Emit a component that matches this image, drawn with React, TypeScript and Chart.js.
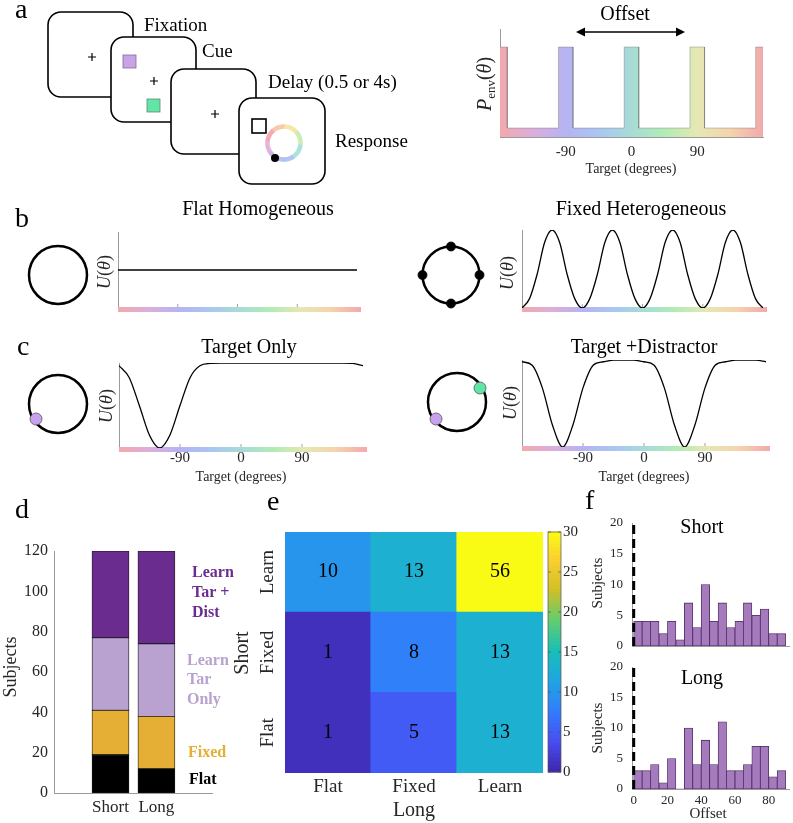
import React, { useEffect, useRef } from 'react';
import { Chart, registerables } from 'chart.js';

Chart.register(...registerables);

const PAGE_W = 793;
const PAGE_H = 823;
const SERIF = '"Liberation Serif", "DejaVu Serif", serif';
const INK = '#262626';
const AXIS = '#9a9a9a';
Chart.defaults.font.family = SERIF;
Chart.defaults.color = INK;

// ---------------- data ----------------
const targetTicks = [-90, 0, 90];

// panel a: environment prior (step function)
const envEdges = [-180, -170, -100, -80, -10, 10, 80, 100, 170, 180];
const envLevels = [1, 0.1, 1, 0.1, 1, 0.1, 1, 0.1, 1];

// panel b
const flatTheta = [-180, 180];
const flatU = [0.5, 0.5];
const heteroTheta = [-180, -168.75, -157.5, -146.25, -135, -123.75, -112.5, -101.25, -90, -78.75, -67.5, -56.25, -45, -33.75, -22.5, -11.25, 0, 11.25, 22.5, 33.75, 45, 56.25, 67.5, 78.75, 90, 101.25, 112.5, 123.75, 135, 146.25, 157.5, 168.75, 180];
const heteroU = [0, 0.12, 0.43, 0.84, 1, 0.84, 0.43, 0.12, 0, 0.12, 0.43, 0.84, 1, 0.84, 0.43, 0.12, 0, 0.12, 0.43, 0.84, 1, 0.84, 0.43, 0.12, 0, 0.12, 0.43, 0.84, 1, 0.84, 0.43, 0.12, 0];

// panel c
const cTheta = [-180, -165, -150, -135, -120, -105, -90, -75, -60, -45, -30, -15, 0, 15, 30, 45, 60, 75, 90, 105, 120, 135, 150, 165, 180];
const targetOnlyU = [0.97, 0.83, 0.5, 0.15, 0, 0.15, 0.5, 0.83, 0.97, 0.995, 1, 1, 1, 1, 1, 1, 1, 1, 1, 1, 1, 1, 1, 0.995, 0.97];
const targetDistU = [0.98, 0.94, 0.68, 0.25, 0, 0.25, 0.68, 0.94, 0.98, 0.998, 1, 0.998, 0.98, 0.94, 0.68, 0.25, 0, 0.25, 0.68, 0.94, 0.98, 0.998, 1, 0.998, 0.98];

// panel d
const stackCats = ['Short', 'Long'];
const flatCounts = [19, 12];
const fixedCounts = [22, 26];
const tarOnlyCounts = [36, 36];
const tarDistCounts = [43, 46];
const subjectTicks = [0, 20, 40, 60, 80, 100, 120];

// panel e
const longCats = ['Flat', 'Fixed', 'Learn'];
const shortCats = ['Flat', 'Fixed', 'Learn'];
const heatShortFlat = [1, 5, 13];
const heatShortFixed = [1, 8, 13];
const heatShortLearn = [10, 13, 56];
const colorbarTicks = [0, 5, 10, 15, 20, 25, 30];
const colorMax = 30;

// panel f
const binEdges = [0, 5, 10, 15, 20, 25, 30, 35, 40, 45, 50, 55, 60, 65, 70, 75, 80, 85, 90];
const shortOffsetCounts = [4, 4, 4, 2, 4, 1, 7, 3, 10, 4, 7, 3, 4, 7, 5, 6, 2, 2];
const longOffsetCounts = [3, 3, 4, 1, 5, 0, 10, 4, 8, 4, 11, 3, 3, 4, 7, 7, 2, 3];
const offsetTicks = [0, 20, 40, 60, 80];
const histYTicks = [0, 5, 10, 15, 20];
const dashX = [0, 0];
const dashY = [0, 20];

// ---------------- styles ----------------
const rainbowStops: [number, string][] = [
  [0, '#f2a9ad'], [0.125, '#dcaedb'], [0.25, '#b6b3f3'], [0.375, '#aac6f1'], [0.5, '#a7dcd6'],
  [0.625, '#b2ebb6'], [0.75, '#e5e8b2'], [0.875, '#f5d3ad'], [1, '#f2a9ad'],
];
const parulaAnchors: [number, number[]][] = [
  [0 / 63, [0.2422, 0.1504, 0.6603]],
  [8 / 63, [0.2813, 0.3006, 0.9414]],
  [16 / 63, [0.1963, 0.4847, 0.9892]],
  [24 / 63, [0.1248, 0.6459, 0.8883]],
  [32 / 63, [0.0964, 0.75, 0.712]],
  [40 / 63, [0.3909, 0.8029, 0.4354]],
  [48 / 63, [0.8203, 0.7498, 0.1535]],
  [56 / 63, [0.9892, 0.8136, 0.1885]],
  [63 / 63, [0.9769, 0.9839, 0.0805]],
];
const D_DARK = '#6a2d8f';
const D_LIGHT = '#b9a2cf';
const D_GOLD = '#e5af35';
const HIST_FILL = '#a57bbd';
const HIST_EDGE = '#4a2a5e';

function parula(t: number): string {
  const tt = Math.max(0, Math.min(1, t));
  for (let i = 0; i < parulaAnchors.length - 1; i++) {
    const [p0, c0] = parulaAnchors[i];
    const [p1, c1] = parulaAnchors[i + 1];
    if (tt <= p1) {
      const f = (tt - p0) / (p1 - p0);
      const c = c0.map((v, k) => Math.round((v + (c1[k] - v) * f) * 255));
      return `rgb(${c[0]},${c[1]},${c[2]})`;
    }
  }
  const c = parulaAnchors[parulaAnchors.length - 1][1].map((v) => Math.round(v * 255));
  return `rgb(${c[0]},${c[1]},${c[2]})`;
}

function rainbow(ctx: CanvasRenderingContext2D, x0: number, x1: number) {
  const g = ctx.createLinearGradient(x0, 0, x1, 0);
  rainbowStops.forEach(([p, c]) => g.addColorStop(p, c));
  return g;
}

// ---------------- helpers ----------------
type Box = { L: number; T: number; R: number; B: number };
const pad = (b: Box, left = 0, bottom = 0, right = 0) => ({
  left: b.L - left, top: b.T, right: PAGE_W - b.R - right, bottom: PAGE_H - b.B - bottom,
});
const fix = (size: number) => (scale: any) => {
  if (scale.isHorizontal()) scale.height = size; else scale.width = size;
};
const setTicks = (vals: number[]) => (s: any) => { s.ticks = vals.map((v) => ({ value: v })); };
const noGrid = { display: false, drawTicks: false };
const baseOpts = {
  animation: false as const,
  responsive: false,
  events: [] as any[],
  plugins: { legend: { display: false }, tooltip: { enabled: false } },
};

type Txt = { t: string; x: number; y: number; size: number; color?: string; weight?: string; style?: string; rot?: number; align?: CanvasTextAlign; base?: CanvasTextBaseline };
function drawTexts(ctx: CanvasRenderingContext2D, items: Txt[]) {
  items.forEach((it) => {
    ctx.save();
    ctx.translate(it.x, it.y);
    if (it.rot) ctx.rotate((it.rot * Math.PI) / 180);
    ctx.font = `${it.style ?? 'normal'} ${it.weight ?? 'normal'} ${it.size}px ${SERIF}`;
    ctx.fillStyle = it.color ?? INK;
    ctx.textAlign = it.align ?? 'center';
    ctx.textBaseline = it.base ?? 'middle';
    ctx.fillText(it.t, 0, 0);
    ctx.restore();
  });
}
type Seg = { t: string; italic?: boolean; size: number; dy?: number };
function drawMath(ctx: CanvasRenderingContext2D, segs: Seg[], x: number, y: number, rot: number) {
  ctx.save();
  ctx.translate(x, y);
  ctx.rotate((rot * Math.PI) / 180);
  const fontOf = (s: Seg) => `${s.italic ? 'italic ' : ''}${s.size}px ${SERIF}`;
  let total = 0;
  const widths = segs.map((s) => { ctx.font = fontOf(s); const w = ctx.measureText(s.t).width; total += w; return w; });
  let cx = -total / 2;
  const base = segs[0].size * 0.33;
  ctx.textAlign = 'left';
  ctx.textBaseline = 'alphabetic';
  ctx.fillStyle = INK;
  segs.forEach((s, i) => { ctx.font = fontOf(s); ctx.fillText(s.t, cx, base + (s.dy ?? 0)); cx += widths[i]; });
  ctx.restore();
}
const uLabel = (): Seg[] => [
  { t: 'U', italic: true, size: 18 }, { t: '(', size: 18 }, { t: 'θ', italic: true, size: 18 }, { t: ')', size: 18 },
];

function textPlugin(items: Txt[], extra?: (ctx: CanvasRenderingContext2D, chart: any) => void) {
  return {
    id: 'pageText',
    afterDraw(chart: any) {
      const ctx = chart.ctx as CanvasRenderingContext2D;
      ctx.save();
      drawTexts(ctx, items);
      if (extra) extra(ctx, chart);
      ctx.restore();
    },
  };
}

const stripPlugin = {
  id: 'strip',
  beforeDatasetsDraw(chart: any) {
    const { ctx, chartArea: a, scales } = chart;
    ctx.save();
    ctx.fillStyle = rainbow(ctx, a.left, a.right + 4);
    ctx.fillRect(a.left, a.bottom - 1, a.right - a.left + 4, 5);
    ctx.strokeStyle = '#8a8a8a';
    ctx.lineWidth = 0.8;
    targetTicks.forEach((v) => {
      const x = scales.x.getPixelForValue(v);
      ctx.beginPath(); ctx.moveTo(x, a.bottom - 1); ctx.lineTo(x, a.bottom - 4); ctx.stroke();
    });
    ctx.restore();
  },
};

// ---------------- decoration (task diagram, letters, icons) ----------------
function drawDecor(ctx: CanvasRenderingContext2D) {
  ctx.save();
  ctx.fillStyle = '#000';
  ctx.font = `28px ${SERIF}`;
  ctx.textAlign = 'left';
  ctx.textBaseline = 'alphabetic';
  const letters: [string, number, number][] = [['a', 15, 18], ['b', 15, 227], ['c', 17, 355], ['d', 15, 518], ['e', 267, 510], ['f', 585, 509]];
  letters.forEach(([t, x, y]) => ctx.fillText(t, x, y));

  const box = (x: number, y: number, w: number, h: number) => {
    ctx.beginPath();
    if ((ctx as any).roundRect) (ctx as any).roundRect(x, y, w, h, 13); else ctx.rect(x, y, w, h);
    ctx.fillStyle = '#fff'; ctx.fill();
    ctx.lineWidth = 1.6; ctx.strokeStyle = '#000'; ctx.stroke();
  };
  const plus = (x: number, y: number) => {
    ctx.beginPath(); ctx.lineWidth = 1.2; ctx.strokeStyle = '#000';
    ctx.moveTo(x - 4, y); ctx.lineTo(x + 4, y); ctx.moveTo(x, y - 4); ctx.lineTo(x, y + 4); ctx.stroke();
  };
  const square = (x: number, y: number, s: number, fill: string | null, stroke: string, lw: number) => {
    if (fill) { ctx.fillStyle = fill; ctx.fillRect(x, y, s, s); }
    ctx.lineWidth = lw; ctx.strokeStyle = stroke; ctx.strokeRect(x, y, s, s);
  };
  box(48, 12, 85, 85); plus(92, 57);
  box(111, 37, 85, 85); square(123, 55, 13, '#c9a3e6', '#7d6d8c', 0.8); square(147, 99, 13, '#63e5a5', '#5d8a74', 0.8); plus(154, 81);
  box(171, 69, 85, 85); plus(215, 114);
  box(239, 98, 86, 86); square(252, 119, 14, null, '#000', 1.6);
  // colour ring
  const cx = 284, cy = 143, r = 16.5;
  const ringStops: [number, string][] = [[0, '#f1e7a3'], [0.13, '#c6ecb2'], [0.26, '#a8e2da'], [0.4, '#adc4f1'], [0.52, '#c1b5f1'], [0.65, '#e3b0d9'], [0.76, '#f3a9b1'], [0.88, '#f7c9a9'], [1, '#f1e7a3']];
  const N = 90;
  for (let k = 0; k < N; k++) {
    const f = k / N;
    let col = ringStops[0][1];
    for (let j = 0; j < ringStops.length - 1; j++) if (f >= ringStops[j][0] && f < ringStops[j + 1][0]) col = ringStops[j][1];
    const a0 = -Math.PI / 2 + f * 2 * Math.PI;
    const a1 = a0 + (2 * Math.PI) / N + 0.02;
    ctx.beginPath(); ctx.strokeStyle = col; ctx.lineWidth = 4.5; ctx.arc(cx, cy, r, a0, a1); ctx.stroke();
  }
  ctx.beginPath(); ctx.fillStyle = '#000'; ctx.arc(275, 158, 4, 0, Math.PI * 2); ctx.fill();

  drawTexts(ctx, [
    { t: 'Fixation', x: 144, y: 31, size: 19, align: 'left', base: 'alphabetic', color: '#000' },
    { t: 'Cue', x: 202, y: 57, size: 19, align: 'left', base: 'alphabetic', color: '#000' },
    { t: 'Delay (0.5 or 4s)', x: 268, y: 88, size: 19, align: 'left', base: 'alphabetic', color: '#000' },
    { t: 'Response', x: 335, y: 147, size: 19, align: 'left', base: 'alphabetic', color: '#000' },
  ]);

  // circle icons
  const circle = (x: number, y: number, rr: number) => {
    ctx.beginPath(); ctx.lineWidth = 2.5; ctx.strokeStyle = '#000'; ctx.arc(x, y, rr, 0, Math.PI * 2); ctx.stroke();
  };
  const dot = (x: number, y: number, rr: number, fill: string, stroke: string) => {
    ctx.beginPath(); ctx.fillStyle = fill; ctx.arc(x, y, rr, 0, Math.PI * 2); ctx.fill();
    ctx.lineWidth = 0.8; ctx.strokeStyle = stroke; ctx.stroke();
  };
  circle(58, 275, 29);
  circle(451, 275, 28.5);
  dot(451, 246.5, 4.5, '#000', '#000'); dot(451, 303.5, 4.5, '#000', '#000');
  dot(422.5, 275, 4.5, '#000', '#000'); dot(479.5, 275, 4.5, '#000', '#000');
  circle(58, 404, 29);
  dot(36, 419, 6, '#c8a2ee', '#555');
  circle(457, 402, 29);
  dot(436, 419, 6, '#c8a2ee', '#555');
  dot(480, 388, 6, '#5fe6a6', '#555');
  ctx.restore();
}

// ---------------- chart configs ----------------
function buildConfigs(): any[] {
  const cfgs: any[] = [];

  // decoration
  cfgs.push({
    type: 'scatter',
    data: { datasets: [] },
    options: { ...baseOpts, scales: { x: { display: false }, y: { display: false } } },
    plugins: [{ id: 'decor', afterDraw(chart: any) { drawDecor(chart.ctx); } }],
  });

  // panel a right: P_env
  const envBox: Box = { L: 500, T: 29, R: 763, B: 137 };
  const envPts: { x: number; y: number }[] = [];
  envLevels.forEach((lv, i) => { envPts.push({ x: envEdges[i], y: lv }); envPts.push({ x: envEdges[i + 1], y: lv }); });
  cfgs.push({
    type: 'line',
    data: {
      datasets: [{
        data: envPts, fill: 'origin', borderColor: 'rgba(80,80,80,0.3)', borderWidth: 1, pointRadius: 0, tension: 0,
        backgroundColor: (c: any) => {
          const { chart } = c;
          if (!chart.chartArea) return 'rgba(0,0,0,0)';
          return rainbow(chart.ctx, chart.chartArea.left, chart.chartArea.right);
        },
      }],
    },
    options: {
      ...baseOpts,
      layout: { padding: pad(envBox, 0, 40) },
      scales: {
        x: { type: 'linear', min: -180, max: 180, afterBuildTicks: setTicks(targetTicks), ticks: { font: { size: 15 }, padding: 6, color: INK, maxRotation: 0 }, grid: noGrid, border: { display: true, color: AXIS }, afterFit: fix(40) },
        y: { type: 'linear', min: 0, max: 1.2, ticks: { display: false }, grid: noGrid, border: { display: true, color: AXIS }, afterFit: fix(0) },
      },
    },
    plugins: [textPlugin(
      [{ t: 'Offset', x: 625, y: 15, size: 20, color: '#000' }, { t: 'Target (degrees)', x: 631, y: 169, size: 14 }],
      (ctx) => {
        // double arrow
        const y = 32, x0 = 576, x1 = 685;
        ctx.strokeStyle = '#000'; ctx.fillStyle = '#000'; ctx.lineWidth = 1.4;
        ctx.beginPath(); ctx.moveTo(x0 + 6, y); ctx.lineTo(x1 - 6, y); ctx.stroke();
        ctx.beginPath(); ctx.moveTo(x0, y); ctx.lineTo(x0 + 9, y - 4.5); ctx.lineTo(x0 + 9, y + 4.5); ctx.closePath(); ctx.fill();
        ctx.beginPath(); ctx.moveTo(x1, y); ctx.lineTo(x1 - 9, y - 4.5); ctx.lineTo(x1 - 9, y + 4.5); ctx.closePath(); ctx.fill();
        drawMath(ctx, [
          { t: 'P', italic: true, size: 20 }, { t: 'env', size: 13, dy: 4 }, { t: '(', size: 20 }, { t: 'θ', italic: true, size: 20 }, { t: ')', size: 20 },
        ], 484, 84, -90);
      },
    )],
  });

  // panels b / c
  const uChart = (box: Box, theta: number[], u: number[], labels: boolean, lw: number, texts: Txt[], ul: [number, number], tickPad = 1) => ({
    type: 'line',
    data: { datasets: [{ data: theta.map((x, i) => ({ x, y: u[i] })), borderColor: '#000', borderWidth: lw, pointRadius: 0, cubicInterpolationMode: 'monotone', fill: false }] },
    options: {
      ...baseOpts,
      layout: { padding: pad(box, 0, labels ? 30 : 0) },
      scales: {
        x: { type: 'linear', min: -180, max: 180, afterBuildTicks: setTicks(targetTicks), ticks: { display: labels, font: { size: 15 }, padding: tickPad, color: INK, maxRotation: 0 }, grid: noGrid, border: { display: false }, afterFit: fix(labels ? 30 : 0) },
        y: { type: 'linear', min: 0, max: 1, ticks: { display: false }, grid: noGrid, border: { display: true, color: AXIS }, afterFit: fix(0) },
      },
    },
    plugins: [stripPlugin, textPlugin(texts, (ctx) => drawMath(ctx, uLabel(), ul[0], ul[1], -90))],
  });
  cfgs.push(uChart({ L: 118, T: 232, R: 357, B: 308 }, flatTheta, flatU, false, 1.6,
    [{ t: 'Flat Homogeneous', x: 258, y: 210, size: 20, color: '#000' }], [104, 272]));
  cfgs.push(uChart({ L: 522, T: 230, R: 763, B: 308 }, heteroTheta, heteroU, false, 1.3,
    [{ t: 'Fixed Heterogeneous', x: 641, y: 210, size: 20, color: '#000' }], [507, 273]));
  cfgs.push(uChart({ L: 119, T: 363, R: 363, B: 448 }, cTheta, targetOnlyU, true, 1.3,
    [{ t: 'Target Only', x: 249, y: 348, size: 20, color: '#000' }, { t: 'Target (degrees)', x: 241, y: 477, size: 14 }], [106, 406], 1));
  cfgs.push(uChart({ L: 522, T: 360, R: 766, B: 447 }, cTheta, targetDistU, true, 1.3,
    [{ t: 'Target +Distractor', x: 644, y: 348, size: 20, color: '#000' }, { t: 'Target (degrees)', x: 644, y: 477, size: 14 }], [510, 403], 2));

  // panel d: stacked bars
  const dBox: Box = { L: 54, T: 551, R: 212, B: 793 };
  const stackSeries: [number[], string][] = [[flatCounts, '#000000'], [fixedCounts, D_GOLD], [tarOnlyCounts, D_LIGHT], [tarDistCounts, D_DARK]];
  cfgs.push({
    type: 'bar',
    data: {
      datasets: stackSeries.map(([counts, color]) => ({
        data: stackCats.map((_, i) => ({ x: i + 1, y: counts[i] })),
        backgroundColor: color, borderColor: '#1a1a1a', borderWidth: 0.8, borderSkipped: false, barThickness: 37,
      })),
    },
    options: {
      ...baseOpts,
      layout: { padding: pad(dBox, 40, 30) },
      scales: {
        x: { type: 'linear', min: -0.23, max: 3.21, offset: false, stacked: true, afterBuildTicks: setTicks(stackCats.map((_, i) => i + 1)), ticks: { callback: (_v: any, i: number) => stackCats[i], font: { size: 17 }, padding: 4, color: INK, maxRotation: 0 }, grid: noGrid, border: { display: true, color: AXIS }, afterFit: fix(30) },
        y: { type: 'linear', min: 0, max: 120, stacked: true, afterBuildTicks: setTicks(subjectTicks), ticks: { font: { size: 16 }, padding: 6, color: INK }, grid: noGrid, border: { display: true, color: AXIS }, afterFit: fix(40) },
      },
    },
    plugins: [textPlugin([
      { t: 'Subjects', x: 11, y: 667, size: 18, rot: -90 },
      { t: 'Learn', x: 192, y: 573, size: 16, weight: 'bold', color: D_DARK, align: 'left' },
      { t: 'Tar +', x: 192, y: 593, size: 16, weight: 'bold', color: D_DARK, align: 'left' },
      { t: 'Dist', x: 192, y: 613, size: 16, weight: 'bold', color: D_DARK, align: 'left' },
      { t: 'Learn', x: 187, y: 661, size: 16, weight: 'bold', color: D_LIGHT, align: 'left' },
      { t: 'Tar', x: 187, y: 680, size: 16, weight: 'bold', color: D_LIGHT, align: 'left' },
      { t: 'Only', x: 187, y: 700, size: 16, weight: 'bold', color: D_LIGHT, align: 'left' },
      { t: 'Fixed', x: 188, y: 753, size: 16, weight: 'bold', color: D_GOLD, align: 'left' },
      { t: 'Flat', x: 189, y: 780, size: 16, weight: 'bold', color: '#000', align: 'left' },
    ])],
  });

  // panel e: heatmap
  const eBox: Box = { L: 285, T: 532, R: 543, B: 773 };
  const heatRows = [heatShortFlat, heatShortFixed, heatShortLearn];
  cfgs.push({
    type: 'bar',
    data: {
      labels: longCats,
      datasets: heatRows.map((row, r) => ({
        data: row.map(() => [r, r + 1]),
        backgroundColor: row.map((v) => parula(v / colorMax)),
        borderWidth: 0, grouped: false, barPercentage: 1, categoryPercentage: 1, inflateAmount: 0.6,
      })),
    },
    options: {
      ...baseOpts,
      layout: { padding: pad(eBox, 0, 30) },
      scales: {
        x: { type: 'category', offset: true, ticks: { font: { size: 19 }, padding: 3, color: INK, maxRotation: 0 }, grid: { display: false, drawTicks: false, offset: true }, border: { display: false }, afterFit: fix(30) },
        y: { type: 'linear', min: 0, max: 3, display: false },
      },
    },
    plugins: [textPlugin(
      [{ t: 'Long', x: 414, y: 811, size: 20 }, { t: 'Short', x: 243, y: 653, size: 20, rot: -90 }],
      (ctx, chart) => {
        heatRows.forEach((row, r) => {
          chart.getDatasetMeta(r).data.forEach((el: any, c: number) => {
            const p = el.getCenterPoint();
            drawTexts(ctx, [{ t: String(row[c]), x: p.x, y: p.y, size: 20, color: '#000' }]);
          });
          const y = chart.scales.y.getPixelForValue(r + 0.5);
          drawTexts(ctx, [{ t: shortCats[r], x: 268, y, size: 19, rot: -90 }]);
        });
      },
    )],
  });

  // colorbar
  const cbBox: Box = { L: 548, T: 532, R: 561, B: 772 };
  cfgs.push({
    type: 'bar',
    data: { datasets: [] },
    options: {
      ...baseOpts,
      layout: { padding: pad(cbBox, 0, 0, 30) },
      scales: {
        x: { type: 'linear', display: false },
        y: { type: 'linear', position: 'right', min: 0, max: colorMax, afterBuildTicks: setTicks(colorbarTicks), ticks: { font: { size: 15 }, padding: 2, color: INK }, grid: noGrid, border: { display: false }, afterFit: fix(30) },
      },
    },
    plugins: [{
      id: 'cbar',
      afterDraw(chart: any) {
        const { ctx, chartArea: a, scales } = chart;
        ctx.save();
        const n = 64;
        for (let i = 0; i < n; i++) {
          const y0 = scales.y.getPixelForValue((i / n) * colorMax);
          const y1 = scales.y.getPixelForValue(((i + 1) / n) * colorMax);
          ctx.fillStyle = parula((i + 0.5) / n);
          ctx.fillRect(a.left, y1 - 0.5, a.right - a.left, y0 - y1 + 1);
        }
        ctx.strokeStyle = '#555'; ctx.lineWidth = 0.7;
        ctx.strokeRect(a.left, a.top, a.right - a.left, a.bottom - a.top);
        colorbarTicks.forEach((v) => {
          const y = scales.y.getPixelForValue(v);
          ctx.beginPath(); ctx.moveTo(a.right, y); ctx.lineTo(a.right - 3, y); ctx.moveTo(a.left, y); ctx.lineTo(a.left + 3, y); ctx.stroke();
        });
        ctx.restore();
      },
    }],
  });

  // panel f: histograms
  const histChart = (box: Box, counts: number[], showX: boolean, texts: Txt[]) => ({
    type: 'bar',
    data: {
      datasets: [
        {
          type: 'line', data: dashX.map((x, i) => ({ x, y: dashY[i] })), borderColor: '#000', borderWidth: 3, borderDash: [9, 5], pointRadius: 0, order: 0,
        },
        {
          type: 'bar',
          data: counts.map((c, i) => ({ x: (binEdges[i] + binEdges[i + 1]) / 2, y: c })),
          backgroundColor: HIST_FILL, borderColor: HIST_EDGE,
          borderWidth: (c: any) => (c.raw && c.raw.y === 0 ? 0 : 0.8),
          borderSkipped: false, barPercentage: 1, categoryPercentage: 1, order: 1,
        },
      ],
    },
    options: {
      ...baseOpts,
      layout: { padding: pad(box, 30, showX ? 20 : 0) },
      scales: {
        x: { type: 'linear', min: -1, max: 92, offset: false, afterBuildTicks: setTicks(offsetTicks), ticks: { display: showX, font: { size: 13 }, padding: 4, color: INK, maxRotation: 0 }, grid: noGrid, border: { display: true, color: AXIS }, afterFit: fix(showX ? 20 : 0) },
        y: { type: 'linear', min: 0, max: 20, afterBuildTicks: setTicks(histYTicks), ticks: { font: { size: 13 }, padding: 9, color: INK }, grid: noGrid, border: { display: true, color: AXIS }, afterFit: fix(30) },
      },
    },
    plugins: [textPlugin(texts)],
  });
  cfgs.push(histChart({ L: 632, T: 523, R: 789, B: 646 }, shortOffsetCounts, false, [
    { t: 'Short', x: 702, y: 528, size: 20, color: '#000' },
    { t: 'Subjects', x: 598, y: 583, size: 15, rot: -90 },
  ]));
  cfgs.push(histChart({ L: 632, T: 667, R: 789, B: 789 }, longOffsetCounts, true, [
    { t: 'Long', x: 702, y: 679, size: 20, color: '#000' },
    { t: 'Subjects', x: 598, y: 728, size: 15, rot: -90 },
    { t: 'Offset', x: 708, y: 814, size: 15 },
  ]));

  return cfgs;
}

const N_CHARTS = 11;

export default function App() {
  const refs = useRef<(HTMLCanvasElement | null)[]>([]);
  useEffect(() => {
    const configs = buildConfigs();
    const charts = configs.map((cfg, i) => new Chart(refs.current[i] as HTMLCanvasElement, cfg));
    return () => charts.forEach((c) => c.destroy());
  }, []);
  return (
    <div style={{ position: 'absolute', left: 0, top: 0, width: PAGE_W, height: PAGE_H, background: '#fff', overflow: 'hidden' }}>
      {Array.from({ length: N_CHARTS }).map((_, i) => (
        <canvas
          key={i}
          ref={(el) => { refs.current[i] = el; }}
          width={PAGE_W}
          height={PAGE_H}
          style={{ position: 'absolute', left: 0, top: 0, width: PAGE_W, height: PAGE_H }}
        />
      ))}
    </div>
  );
}
